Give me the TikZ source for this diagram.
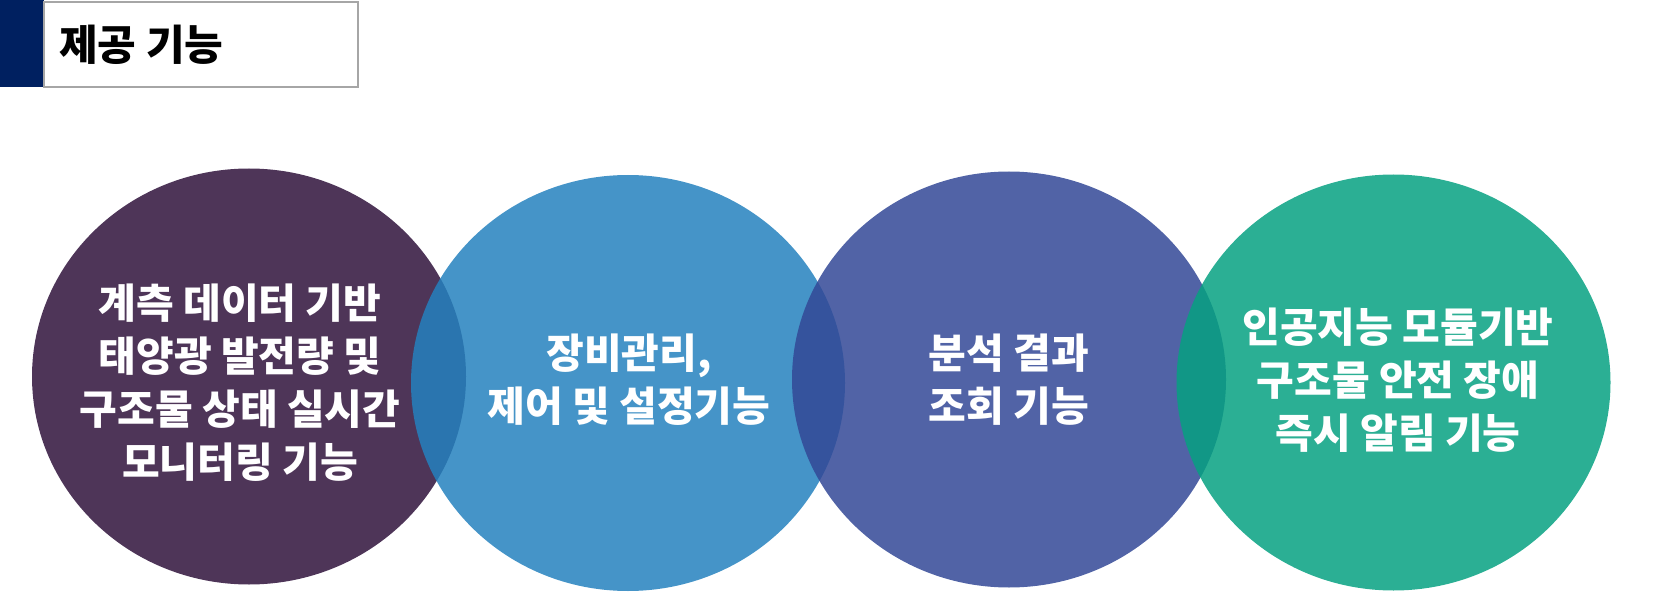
\documentclass[tikz,border=0pt]{standalone}
\usepackage{fontspec}
\newfontfamily\kofont{Noto Sans CJK KR}
\usetikzlibrary{shapes.geometric}
\definecolor{navybar}{RGB}{0,32,96}
\definecolor{boxgray}{RGB}{166,166,166}
\definecolor{monpurple}{RGB}{47,18,59}
\definecolor{ctlblue}{RGB}{36,129,190}
\definecolor{anaindigo}{RGB}{50,72,150}
\definecolor{alarmteal}{RGB}{6,161,129}
\tikzset{
    disc/.style={ellipse, minimum width=434pt, minimum height=416pt, inner sep=0pt, fill opacity=0.85},
    disctext/.style={align=center, text=white, font=\kofont\bfseries\fontsize{41}{53}\selectfont}
}
\begin{document}
\begin{tikzpicture}[x=1pt,y=-1pt]
            \useasboundingbox (0,0) rectangle (1667,593);
            % title
            \fill[navybar] (0,0) rectangle (44,87);
            \draw[boxgray, line width=2pt, fill=white] (44,2) rectangle (358,87);
            \node[anchor=west, inner sep=0pt, font=\kofont\bfseries\fontsize{42}{50}\selectfont] (title) at (59,45) {제공 기능};
            % circles
            \coordinate (Omon) at (249,376.5);
            \coordinate (Octl) at (628,383);
            \coordinate (Oana) at (1009,379.5);
            \coordinate (Oalm) at (1393.5,382.5);
            \node[disc, fill=monpurple] (mon) at (Omon) {};
            \node[disc, fill=ctlblue] (ctl) at (Octl) {};
            \node[disc, fill=anaindigo] (ana) at (Oana) {};
            \node[disc, fill=alarmteal] (alm) at (Oalm) {};
            % labels
            \node[disctext] (montext) at (240,383) {계측 데이터 기반\\태양광 발전량 및\\구조물 상태 실시간\\모니터링 기능};
            \node[disctext] (ctltext) at (629,380) {장비관리,\\제어 및 설정기능};
            \node[disctext] (anatext) at (1009,380) {분석 결과\\조회 기능};
            \node[disctext] (almtext) at (1398,380) {인공지능 모듈기반\\구조물 안전 장애\\즉시 알림 기능};
        \end{tikzpicture}
\end{document}
